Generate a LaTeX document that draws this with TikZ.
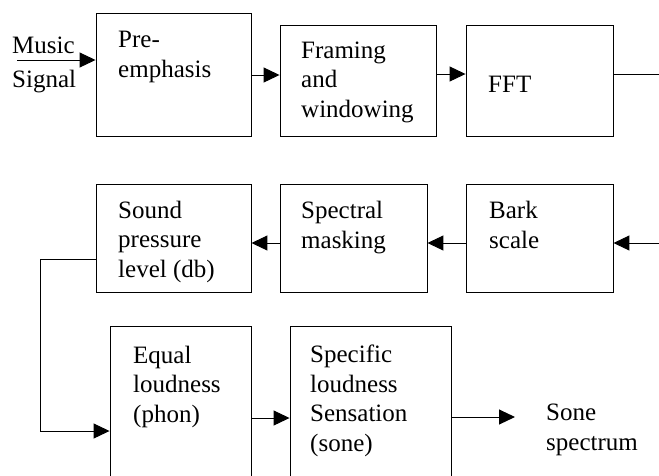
\documentclass[tikz,border=0pt]{standalone}
\usepackage{fontspec}
\setmainfont{Liberation Serif}
\usetikzlibrary{arrows.meta}

\begin{document}
\begin{tikzpicture}[x=1pt, y=-1pt,
    block/.style={draw, line width=0.9pt, inner sep=0pt},
    txt/.style={anchor=base west, inner sep=0pt, align=left,
        font=\fontsize{25}{29.5}\selectfont},
    arr/.style={line width=1pt, -{Triangle[length=16pt,width=15pt]}}]
    \clip (0,0) rectangle (659,475);

    % First row of blocks
    \node[block, minimum width=155pt, minimum height=123pt] (pre) at (173.5,74.5) {};
    \node[block, minimum width=156pt, minimum height=111pt] (frame) at (358,80.5) {};
    \node[block, minimum width=147pt, minimum height=111pt] (fft) at (539.5,80.5) {};

    % Second row of blocks
    \node[block, minimum width=155pt, minimum height=108pt] (spl) at (173.5,238) {};
    \node[block, minimum width=147pt, minimum height=108pt] (mask) at (353.5,238) {};
    \node[block, minimum width=147pt, minimum height=108pt] (bark) at (539.5,238) {};

    % Third row of blocks (cut off by the lower edge)
    \node[block, minimum width=141pt, minimum height=170pt] (equal) at (180.5,411) {};
    \node[block, minimum width=161pt, minimum height=170pt] (spec) at (370.5,411) {};

    % Texts of the blocks (placed at the baseline of their last line)
    \node[txt] (music) at (12,87) {Music\\[4pt]Signal};
    \node[txt] (pretxt) at (118,77) {Pre-\\emphasis};
    \node[txt] (frametxt) at (301,117) {Framing\\and\\windowing};
    \node[txt] (ffttxt) at (488,92) {FFT};
    \node[txt] (spltxt) at (118,277) {Sound\\pressure\\level (db)};
    \node[txt] (masktxt) at (301,248) {Spectral\\masking};
    \node[txt] (barktxt) at (489,248) {Bark\\scale};
    \node[txt] (equaltxt) at (133,422) {Equal\\loudness\\(phon)};
    \node[txt] (spectxt) at (310,451) {Specific\\loudness\\Sensation\\(sone)};
    \node[txt] (sone) at (546,450) {Sone\\spectrum};

    % Free ends of the connectors
    \coordinate (start) at (17,60);
    \coordinate (out) at (659,74);
    \coordinate (in) at (659,243);
    \coordinate (bend) at (40,431);
    \coordinate (end) at (515,417);

    % Connectors
    \draw[arr] (start) -- (start -| pre.west);
    \draw[arr] (pre.east |- 0,75) -- (frame.west |- 0,75);
    \draw[arr] (frame.east |- 0,74) -- (fft.west |- 0,74);
    \draw[line width=1pt] (fft.east |- out) -- (out);
    \draw[arr] (in) -- (in -| bark.east);
    \draw[arr] (bark.west |- in) -- (mask.east |- in);
    \draw[arr] (mask.west |- in) -- (spl.east |- in);
    \draw[arr] (spl.west |- 0,259) -| (bend) -- (bend -| equal.west);
    \draw[arr] (equal.east |- 0,418) -- (spec.west |- 0,418);
    \draw[arr] (spec.east |- end) -- (end);
\end{tikzpicture}
\end{document}
